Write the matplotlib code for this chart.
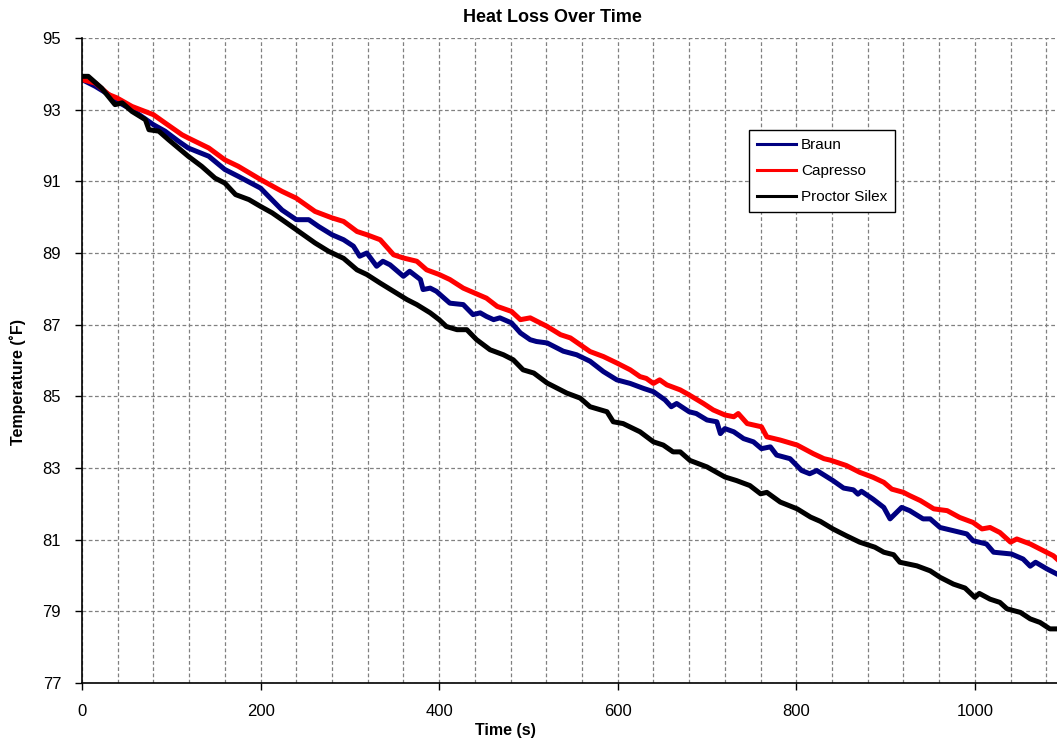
import matplotlib.pyplot as plt
from matplotlib.ticker import MultipleLocator

plt.rcParams['font.family'] = ['Liberation Sans', 'DejaVu Sans']

# Capresso (red)
capresso_t = [0, 15, 30, 39, 56, 80, 93, 112, 119, 142, 160, 175, 200, 224, 240, 261, 280,
              293, 308, 319, 334, 349, 360, 375, 386, 400, 412, 427, 440, 453, 465, 481, 491,
              502, 521, 536, 547, 558, 569, 584, 599, 614, 625, 632, 640, 647, 655, 670, 680,
              696, 707, 720, 730, 735, 745, 761, 767, 782, 801, 819, 831, 838, 856, 871, 886,
              898, 907, 920, 927, 939, 954, 969, 983, 998, 1008, 1017, 1028, 1040, 1047, 1062,
              1073, 1088, 1092]
capresso = [93.84, 93.74, 93.42, 93.33, 93.09, 92.86, 92.63, 92.30, 92.21, 91.93, 91.60, 91.42,
            91.05, 90.72, 90.53, 90.16, 89.98, 89.88, 89.60, 89.51, 89.37, 88.95, 88.86, 88.77,
            88.53, 88.40, 88.26, 88.02, 87.88, 87.74, 87.51, 87.37, 87.14, 87.19, 86.95, 86.72,
            86.63, 86.44, 86.25, 86.11, 85.93, 85.74, 85.55, 85.50, 85.36, 85.46, 85.32, 85.18,
            85.04, 84.80, 84.62, 84.48, 84.43, 84.52, 84.24, 84.15, 83.87, 83.78, 83.64, 83.40,
            83.26, 83.22, 83.07, 82.88, 82.74, 82.60, 82.41, 82.32, 82.23, 82.09, 81.86, 81.81,
            81.62, 81.48, 81.30, 81.34, 81.20, 80.93, 81.02, 80.88, 80.74, 80.55, 80.46]

# Braun (navy)
braun_t = [0, 15, 30, 39, 56, 80, 93, 108, 119, 142, 160, 175, 200, 209, 224, 240, 254, 265,
           280, 293, 304, 311, 319, 330, 337, 345, 360, 367, 379, 382, 390, 397, 401, 412, 427,
           438, 446, 453, 461, 468, 481, 491, 502, 509, 521, 539, 554, 569, 584, 599, 614, 629,
           640, 653, 660, 666, 680, 688, 700, 711, 715, 720, 730, 741, 752, 761, 771, 778, 793,
           806, 815, 823, 841, 853, 864, 869, 873, 886, 898, 905, 918, 927, 942, 950, 961, 976,
           991, 998, 1013, 1021, 1041, 1054, 1062, 1068, 1081, 1092]
braun = [93.84, 93.65, 93.42, 93.23, 93.00, 92.58, 92.40, 92.12, 91.93, 91.70, 91.33, 91.14,
         90.81, 90.58, 90.20, 89.93, 89.93, 89.74, 89.51, 89.37, 89.19, 88.91, 89.00, 88.63,
         88.77, 88.67, 88.35, 88.49, 88.26, 87.98, 88.02, 87.93, 87.84, 87.60, 87.56, 87.28,
         87.33, 87.23, 87.14, 87.19, 87.05, 86.77, 86.58, 86.53, 86.49, 86.26, 86.16, 85.98,
         85.69, 85.46, 85.36, 85.22, 85.13, 84.90, 84.71, 84.80, 84.57, 84.52, 84.34, 84.29,
         83.96, 84.10, 84.01, 83.82, 83.73, 83.54, 83.59, 83.36, 83.26, 82.93, 82.84, 82.93,
         82.65, 82.44, 82.39, 82.27, 82.35, 82.13, 81.90, 81.58, 81.90, 81.81, 81.58, 81.58,
         81.34, 81.25, 81.16, 80.97, 80.88, 80.65, 80.60, 80.46, 80.26, 80.37, 80.18, 80.04]

# Proctor Silex (black)
proctor_t = [0, 7, 22, 37, 45, 56, 71, 75, 86, 97, 119, 134, 149, 160, 172, 187, 200, 213, 224,
             240, 261, 276, 293, 308, 319, 334, 349, 364, 375, 390, 400, 408, 420, 431, 442,
             457, 472, 483, 494, 506, 521, 532, 543, 558, 569, 588, 595, 606, 625, 640, 651,
             662, 670, 681, 700, 720, 733, 748, 760, 767, 782, 801, 816, 827, 841, 856, 871,
             888, 898, 909, 916, 935, 950, 961, 976, 989, 1000, 1005, 1017, 1028, 1036, 1051,
             1062, 1073, 1084, 1092]
proctor = [93.93, 93.93, 93.60, 93.14, 93.19, 92.95, 92.72, 92.44, 92.40, 92.16, 91.70, 91.42,
           91.09, 90.95, 90.63, 90.49, 90.30, 90.12, 89.93, 89.65, 89.28, 89.05, 88.85, 88.53,
           88.40, 88.16, 87.93, 87.70, 87.56, 87.33, 87.14, 86.95, 86.86, 86.86, 86.58, 86.30,
           86.16, 86.02, 85.74, 85.65, 85.37, 85.23, 85.09, 84.95, 84.71, 84.57, 84.29, 84.24,
           84.01, 83.73, 83.64, 83.45, 83.45, 83.21, 83.03, 82.75, 82.65, 82.51, 82.28, 82.32,
           82.05, 81.86, 81.63, 81.51, 81.30, 81.11, 80.93, 80.79, 80.65, 80.58, 80.37, 80.27,
           80.13, 79.95, 79.76, 79.65, 79.39, 79.50, 79.34, 79.25, 79.07, 78.97, 78.79, 78.69,
           78.51, 78.51]

y_ticks = [77, 79, 81, 83, 85, 87, 89, 91, 93, 95]

fig = plt.figure(figsize=(10.57, 7.44), dpi=100)
ax = fig.add_axes([82 / 1057, 1 - 683 / 744, 975 / 1057, 645 / 744])

lw = 3.6
ax.plot(braun_t, braun, color='#000080', lw=lw, label='Braun')
ax.plot(capresso_t, capresso, color='#FF0000', lw=lw, label='Capresso')
ax.plot(proctor_t, proctor, color='black', lw=lw, label='Proctor Silex')

ax.set_xlim(0, 1092)
ax.set_ylim(77, 95)
ax.xaxis.set_major_locator(MultipleLocator(200))
ax.xaxis.set_minor_locator(MultipleLocator(40))
ax.set_yticks(y_ticks)
ax.tick_params(axis='x', which='minor', length=0)
ax.tick_params(axis='both', which='major', length=5, width=1, direction='out',
               labelsize=12, colors='black')
ax.tick_params(axis='y', pad=10)
ax.tick_params(axis='x', pad=10)

ax.grid(True, which='both', axis='x', color='#808080', ls=(0, (3, 2)), lw=0.9)
ax.grid(True, which='major', axis='y', color='#808080', ls=(0, (3, 2)), lw=0.9)
ax.set_axisbelow(True)

for side in ['top', 'right']:
    ax.spines[side].set_visible(False)
for side in ['left', 'bottom']:
    ax.spines[side].set_linewidth(1.2)
    ax.spines[side].set_color('black')

fig.text(552 / 1057, 1 - 17 / 744, 'Heat Loss Over Time', ha='center', va='center',
         fontsize=13, fontweight='bold')
fig.text(505 / 1057, 1 - 730 / 744, 'Time (s)', ha='center', va='center',
         fontsize=11.5, fontweight='bold')
fig.text(18 / 1057, 1 - 382 / 744, 'Temperature (˚F)', ha='center', va='center',
         rotation=90, fontsize=11.5, fontweight='bold')

leg = ax.legend(loc='upper left', bbox_to_anchor=(0.684, 0.857), fontsize=11,
                frameon=True, fancybox=False, edgecolor='black', framealpha=1,
                handlelength=2.6, handletextpad=0.3, labelspacing=0.8,
                borderpad=0.5, borderaxespad=0)
leg.get_frame().set_linewidth(1.0)
for line in leg.get_lines():
    line.set_linewidth(2.2)

fig.savefig('out.png', dpi=100)
